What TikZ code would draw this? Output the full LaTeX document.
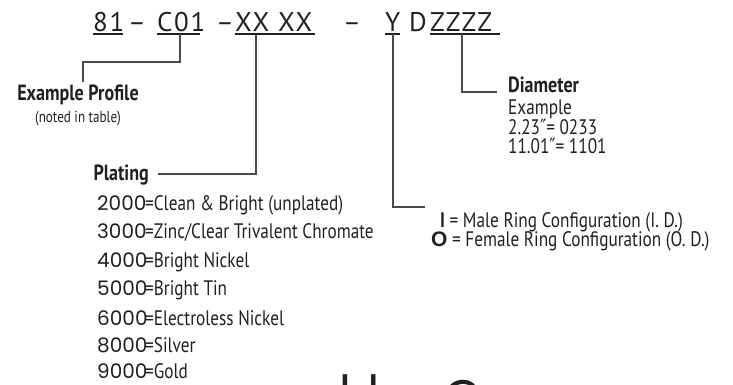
\documentclass[tikz,border=0pt]{standalone}
\usepackage{fontspec}
\setmainfont{PT Sans}
\newfontfamily\cond[FakeStretch=0.82]{PT Sans}
\newfontfamily\digs{Poppins}
\newfontfamily\reg[LetterSpace=6]{PT Sans}
\newfontfamily\bigf{Lato}
\newfontfamily\primef[FakeStretch=0.8]{DejaVu Sans}
\definecolor{ink}{HTML}{231F20}
\definecolor{wire}{HTML}{4A4A4A}
\tikzset{
  code/.style={anchor=base west, inner sep=0pt, text=ink, font=\reg\fontsize{27}{30}\selectfont},
  lbl/.style={anchor=base west, inner sep=0pt, text=ink, font=\cond\fontsize{21}{24}\selectfont},
  lblb/.style={anchor=base west, inner sep=0pt, text=ink, font=\cond\bfseries\fontsize{22}{24}\selectfont},
  dig/.style={anchor=base west, inner sep=0pt, text=ink, font=\digs\fontsize{20}{22}\selectfont},
  bigtxt/.style={anchor=base west, inner sep=0pt, text=ink, font=\bigf\fontsize{50}{60}\selectfont},
  uline/.style={draw=ink, line width=1.1pt},
  wirel/.style={draw=wire, line width=1.1pt}
}
\newcommand{\dprime}{{\primef\fontsize{21}{22}\selectfont ″}}
\begin{document}
\begin{tikzpicture}[x=1pt,y=-1pt]
\useasboundingbox (0,0) rectangle (733,384);
% top code line
\node[code] (n81) at (93,31) {81};
\node[code] (d1) at (128,31) {–};
\node[code] (c01) at (157,31) {C01};
\node[code] (d2) at (216,31) {–};
\node[code] (xx1) at (235,31) {XX};
\node[code] (xx2) at (278,31) {XX};
\node[code] (d3) at (343,31) {–};
\node[code] (y) at (385,31) {Y};
\node[code] (dd) at (409,31) {D};
\node[code] (zz) at (430,31) {ZZZZ};
% underlines
\draw[uline] (93,34) -- (123,34);
\draw[uline] (157,34) -- (200,34);
\draw[uline] (235,34) -- (315,34);
\draw[uline] (385,34) -- (400,34);
\draw[uline] (430,34) -- (500,34);
% tick coordinates
\coordinate (tC) at (180,34);
\coordinate (tX) at (256,34);
\coordinate (tY) at (393,34);
\coordinate (tZ) at (462,34);
% labels
\node[lblb, anchor=base] (prof) at (78,100) {Example Profile};
\node[lbl, anchor=base, font=\cond\fontsize{16}{18}\selectfont] (noted) at (78,122) {(noted in table)};
\node[lblb, anchor=base east] (plat) at (149,180) {Plating};
\coordinate (pl) at (158,174);
\coordinate (ep) at (83,82);
% plating list
\foreach \d/\t/\yy in {2000/{Clean \& Bright (unplated)}/210, 3000/{Zinc/Clear Trivalent Chromate}/238, 4000/{Bright Nickel}/267, 5000/{Bright Tin}/295, 6000/{Electroless Nickel}/325, 8000/{Silver}/352, 9000/{Gold}/378}{
  \node[dig] (p\d) at (97,\yy) {\d};
  \node[lbl] (q\d) at (145,\yy) {=\t};
}
% ring configuration
\node[lbl] (male) at (440,227) {\textbf{I} = Male Ring Configuration (I. D.)};
\node[lbl] (female) at (431,246) {{\bfseries\fontspec{Liberation Sans}O} = Female Ring Configuration (O. D.)};
\coordinate (rc) at (425,207);
% diameter
\node[lblb] (dia) at (508,92) {Diameter};
\node[lbl] (ex) at (508,114) {Example};
\node[lbl] (e1) at (508,134) {2.23\dprime= 0233};
\node[lbl] (e2) at (508,153) {11.01\dprime= 1101};
\coordinate (dc) at (497,92);
% connectors
\draw[wirel] (tC) |- (ep |- 0,62) -- (ep);
\draw[wirel] (tX) |- (pl);
\draw[wirel] (tY) |- (rc);
\draw[wirel] (tZ) |- (dc);
% cropped large text at bottom
\node[bigtxt] (big1) at (339,411) {ld};
\node[bigtxt] (big2) at (443,416) {C};
\end{tikzpicture}
\end{document}
